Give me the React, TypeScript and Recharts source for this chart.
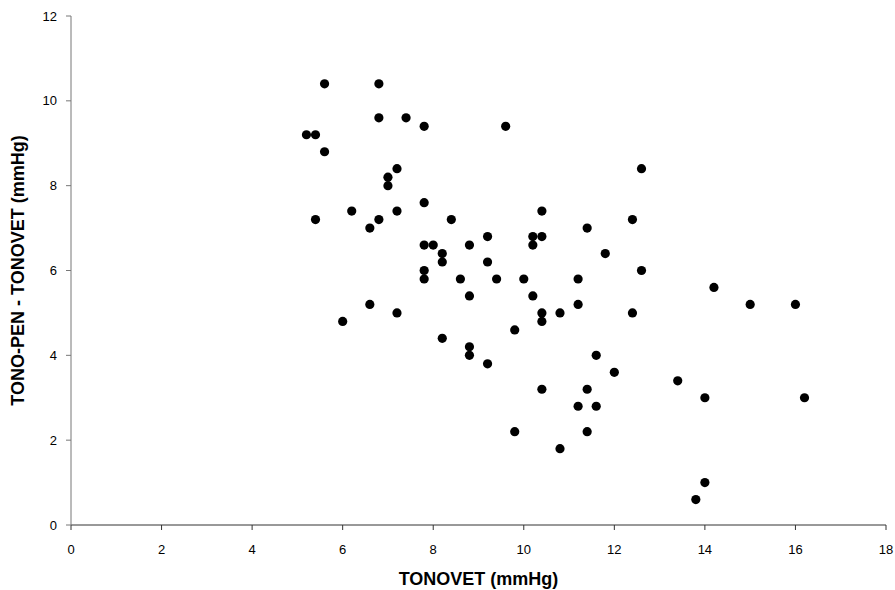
import { ScatterChart, Scatter, XAxis, YAxis, Label } from "recharts"

// TONOVET reading (x) and TONO-PEN minus TONOVET difference (y)
const tonovet = [
  5.2, 5.4, 5.6, 5.6, 5.4, 6.8, 6.8, 7.4, 7.8, 7.2, 7.0, 7.0, 6.2, 7.2, 6.8, 6.6, 7.8, 9.6, 12.6,
  8.4, 7.8, 8.0, 8.8, 9.2, 8.2, 8.2, 7.8, 7.8, 8.6, 9.2, 9.4, 10.2, 10.4, 10.2, 10.4, 11.4, 12.4,
  11.8, 12.6, 10.0, 11.2, 6.6, 6.0, 7.2, 8.8, 10.2, 10.4, 10.4, 10.8, 11.2, 12.4, 14.2, 15.0, 16.0,
  8.2, 8.8, 8.8, 9.2, 9.8, 11.6, 12.0, 10.4, 11.4, 11.2, 11.6, 11.4, 9.8, 10.8, 13.4, 14.0, 16.2,
  14.0, 13.8,
]
const difference = [
  9.2, 9.2, 10.4, 8.8, 7.2, 10.4, 9.6, 9.6, 9.4, 8.4, 8.2, 8.0, 7.4, 7.4, 7.2, 7.0, 7.6, 9.4, 8.4,
  7.2, 6.6, 6.6, 6.6, 6.8, 6.4, 6.2, 6.0, 5.8, 5.8, 6.2, 5.8, 6.8, 6.8, 6.6, 7.4, 7.0, 7.2,
  6.4, 6.0, 5.8, 5.8, 5.2, 4.8, 5.0, 5.4, 5.4, 5.0, 4.8, 5.0, 5.2, 5.0, 5.6, 5.2, 5.2,
  4.4, 4.2, 4.0, 3.8, 4.6, 4.0, 3.6, 3.2, 3.2, 2.8, 2.8, 2.2, 2.2, 1.8, 3.4, 3.0, 3.0,
  1.0, 0.6,
]
const xTicks = [0, 2, 4, 6, 8, 10, 12, 14, 16, 18]
const yTicks = [0, 2, 4, 6, 8, 10, 12]

const points = tonovet.map((x, i) => ({ x, y: difference[i] }))

const font = "'Liberation Sans', Arial, sans-serif"

const Dot = (props: any) => {
  const { cx, cy } = props
  if (cx == null || cy == null) return null
  return <circle cx={cx} cy={cy} r={4.6} fill="#000" />
}

export default function App() {
  return (
    <div style={{ position: "absolute", left: 0, top: 0, width: 895, height: 590, background: "#fff" }}>
      <ScatterChart width={895} height={590} margin={{ top: 16, right: 9, left: 21, bottom: 0 }}>
        <XAxis
          type="number"
          dataKey="x"
          domain={[0, 18]}
          ticks={xTicks}
          interval={0}
          stroke="#333"
          tickSize={5}
          tickMargin={15}
          height={65}
          tick={{ fill: "#000", fontSize: 13, fontFamily: font }}
        >
          <Label
            value="TONOVET (mmHg)"
            position="center"
            dy={21}
            style={{ fill: "#000", fontSize: 18, fontWeight: "bold", fontFamily: font }}
          />
        </XAxis>
        <YAxis
          type="number"
          dataKey="y"
          domain={[0, 12]}
          ticks={yTicks}
          interval={0}
          stroke="#777"
          tickSize={5}
          tickMargin={9}
          width={50}
          tick={{ fill: "#000", fontSize: 13, fontFamily: font }}
        >
          <Label
            value="TONO-PEN - TONOVET (mmHg)"
            angle={-90}
            position="center"
            dx={-28}
            style={{ fill: "#000", fontSize: 18, fontWeight: "bold", fontFamily: font, textAnchor: "middle" }}
          />
        </YAxis>
        <Scatter data={points} shape={<Dot />} isAnimationActive={false} />
      </ScatterChart>
    </div>
  )
}
